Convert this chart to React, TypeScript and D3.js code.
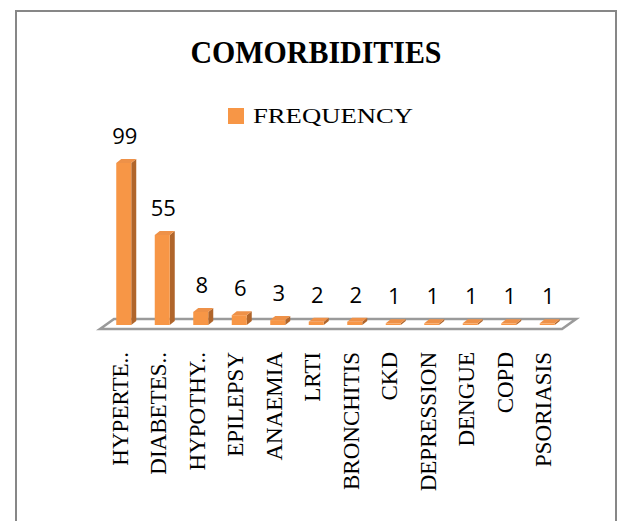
import React from "react";
import * as d3 from "d3";

// Comorbidity counts
const categories: string[] = [
  "HYPERTE..",
  "DIABETES..",
  "HYPOTHY..",
  "EPILEPSY",
  "ANAEMIA",
  "LRTI",
  "BRONCHITIS",
  "CKD",
  "DEPRESSION",
  "DENGUE",
  "COPD",
  "PSORIASIS",
];
const frequency: number[] = [99, 55, 8, 6, 3, 2, 2, 1, 1, 1, 1, 1];
const seriesName = "FREQUENCY";
const chartTitle = "COMORBIDITIES";

const W = 618;
const H = 521;

const FRONT = "#F79646";
const SIDE = "#B0652B";
const TOP = "#EE9148";

export default function App() {
  const x = d3
    .scaleBand<string>()
    .domain(categories)
    .range([104.5, 566.5])
    .paddingInner(0)
    .paddingOuter(0);
  const y = d3.scaleLinear().domain([0, 110]).range([325, 145]);

  const barW = 15;
  const depthX = 5;
  const depthY = -4;

  // floor plate of the 3-D plot area
  const floorFrontY = 329;
  const floorBackY = 319;
  const floorLeft = 100;
  const floorRight = 562;
  const floorShift = 14;
  const floorPath = d3.path();
  floorPath.moveTo(floorLeft, floorFrontY);
  floorPath.lineTo(floorLeft + floorShift, floorBackY);
  floorPath.lineTo(floorRight + floorShift, floorBackY);
  floorPath.lineTo(floorRight, floorFrontY);
  floorPath.closePath();

  return (
    <div style={{ position: "fixed", left: 0, top: 0, width: W, height: H, background: "#fff" }}>
      <svg width={W} height={H} viewBox={`0 0 ${W} ${H}`}>
        <rect x={0} y={0} width={W} height={H} fill="#fff" />
        <rect x={16} y={11} width={600} height={530} fill="#fff" stroke="#878787" strokeWidth={2} />

        <text
          x={316}
          y={62.5}
          textAnchor="middle"
          fontFamily="'Liberation Serif', 'Times New Roman', serif"
          fontWeight="bold"
          fontSize={31}
          textLength={251}
          lengthAdjust="spacingAndGlyphs"
          fill="#000"
        >
          {chartTitle}
        </text>

        <rect x={228} y={108} width={16} height={16} fill={FRONT} />
        <text
          x={253}
          y={123.3}
          fontFamily="'Liberation Serif', 'Times New Roman', serif"
          fontSize={21.5}
          textLength={160}
          lengthAdjust="spacingAndGlyphs"
          fill="#000"
        >
          {seriesName}
        </text>

        <path d={floorPath.toString()} fill="#fff" stroke="#9a9a9a" strokeWidth={2.6} strokeLinejoin="miter" />

        {categories.map((c, i) => {
          const cx = (x(c) as number) + x.bandwidth() / 2;
          const x0 = cx - barW / 2;
          const x1 = cx + barW / 2;
          const yb = y(0);
          const yt = y(frequency[i]);
          const side = `M${x1},${yb} L${x1 + depthX},${yb + depthY} L${x1 + depthX},${yt + depthY} L${x1},${yt} Z`;
          const top = `M${x0},${yt} L${x0 + depthX},${yt + depthY} L${x1 + depthX},${yt + depthY} L${x1},${yt} Z`;
          return (
            <g key={c}>
              <path d={side} fill={SIDE} />
              <path d={top} fill={TOP} />
              <rect x={x0} y={yt} width={barW} height={yb - yt} fill={FRONT} />
              <text
                x={cx + 1}
                y={yt - 19}
                textAnchor="middle"
                fontFamily="'Open Sans', 'Liberation Sans', sans-serif"
                fontSize={22}
                fill="#000"
              >
                {frequency[i]}
              </text>
              <text
                transform={`translate(${cx + 4},352) rotate(-90)`}
                textAnchor="end"
                fontFamily="'Liberation Serif', 'Times New Roman', serif"
                fontSize={23}
                fill="#000"
              >
                {c}
              </text>
            </g>
          );
        })}
      </svg>
    </div>
  );
}
